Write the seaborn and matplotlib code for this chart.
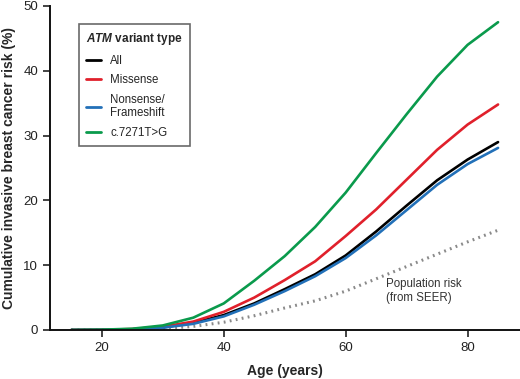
import numpy as np
import pandas as pd
import matplotlib
matplotlib.use("Agg")
import matplotlib.pyplot as plt
import seaborn as sns
from matplotlib.lines import Line2D

ages = [15, 20, 25, 30, 35, 40, 45, 50, 55, 60, 65, 70, 75, 80, 85]
risk_all = [0, 0.02, 0.1, 0.4, 1.1, 2.3, 4.1, 6.3, 8.6, 11.5, 15.2, 19.2, 23.1, 26.3, 29.0]
risk_missense = [0, 0.03, 0.15, 0.5, 1.3, 2.8, 5.0, 7.7, 10.6, 14.5, 18.6, 23.2, 27.8, 31.7, 34.8]
risk_nonsense = [0, 0.02, 0.1, 0.35, 0.95, 2.1, 3.9, 6.0, 8.3, 11.1, 14.6, 18.5, 22.4, 25.6, 28.1]
risk_c7271 = [0, 0.05, 0.2, 0.7, 1.9, 4.1, 7.6, 11.4, 15.9, 21.2, 27.3, 33.3, 39.1, 44.0, 47.5]
risk_population = [0, 0.02, 0.08, 0.2, 0.55, 1.2, 2.2, 3.4, 4.5, 6.0, 7.9, 9.8, 11.7, 13.6, 15.4]

group_labels = ["All", "Missense", "Nonsense/\nFrameshift", "c.7271T>G"]
group_colors = ["#000000", "#E0202B", "#2270B8", "#0A9A4C"]

df = pd.DataFrame({
    "Age": ages * 4,
    "Risk": risk_all + risk_missense + risk_nonsense + risk_c7271,
    "Group": sum([[g] * len(ages) for g in group_labels], []),
})
pop = pd.DataFrame({"Age": ages, "Risk": risk_population})

sns.set_theme(style="ticks")
plt.rcParams["font.family"] = ["Liberation Sans", "DejaVu Sans"]
plt.rcParams["mathtext.fontset"] = "custom"
plt.rcParams["mathtext.rm"] = "Liberation Sans"
plt.rcParams["mathtext.it"] = "Liberation Sans:italic"
plt.rcParams["mathtext.bf"] = "Liberation Sans:bold"
try:
    plt.rcParams["mathtext.bfit"] = "Liberation Sans:italic:bold"
except KeyError:
    pass

fig = plt.figure(figsize=(5.2, 3.79), dpi=100)
ax = fig.add_axes([50 / 520, 1 - 330 / 379, 470 / 520, 324 / 379])

sns.lineplot(data=pop, x="Age", y="Risk", ax=ax, color="#8a8a8a",
             linewidth=2.2, linestyle=(0, (0.6, 1.4)), legend=False)
sns.lineplot(data=df, x="Age", y="Risk", hue="Group", hue_order=group_labels,
             palette=group_colors, linewidth=1.9, ax=ax, legend=False)

ax.set_xlim(11.5, 88.6)
ax.set_ylim(0, 50)
ax.set_xticks([20, 40, 60, 80])
ax.set_yticks([0, 10, 20, 30, 40, 50])
ax.tick_params(axis="both", labelsize=9.5, length=5, width=1.2, colors="#222222",
               labelcolor="#222222", direction="out")
for s in ["top", "right"]:
    ax.spines[s].set_visible(False)
for s in ["left", "bottom"]:
    ax.spines[s].set_linewidth(1.4)
    ax.spines[s].set_color("#111111")

ax.set_xlabel("Age (years)", fontsize=10, fontweight="bold", labelpad=7)
ax.set_ylabel("Cumulative invasive breast cancer risk (%)", fontsize=10,
              fontweight="bold")
ax.yaxis.set_label_coords(-0.072, 0.5)

ax.text(66.6, 8.0, "Population risk\n(from SEER)", fontsize=8.3, color="#333333",
        va="top", ha="left", linespacing=1.15)

handles = [Line2D([0], [0], color=c, lw=2) for c in group_colors]
leg = ax.legend(handles, group_labels, title=r"$\bfit{ATM}$ $\bf{variant\ type}$",
                loc="upper left", bbox_to_anchor=(0.062, 0.944), borderaxespad=0,
                fontsize=8.3, title_fontsize=8.5, handlelength=1.3, handletextpad=0.8,
                frameon=True, fancybox=False, edgecolor="#444444",
                borderpad=0.6, labelspacing=0.65)
leg.get_frame().set_linewidth(1.2)
leg._legend_box.align = "left"

fig.savefig("out.png", dpi=100)
